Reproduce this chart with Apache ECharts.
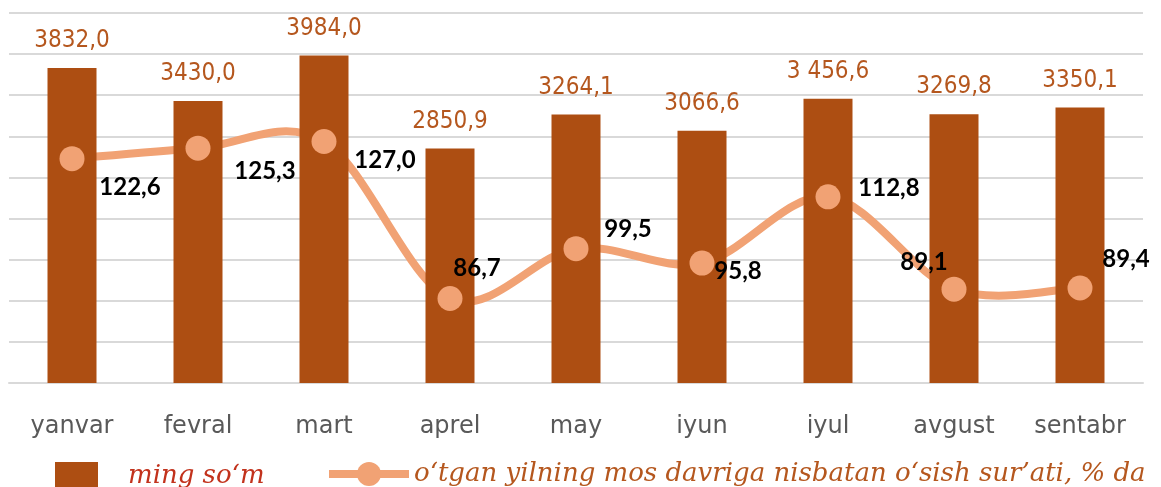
<!DOCTYPE html>
<html>
<head>
<meta charset="utf-8">
<script src="https://cdn.jsdelivr.net/npm/echarts@6/dist/echarts.min.js"></script>
<style>
  html, body { margin: 0; padding: 0; background: #fff; }
  #chart { width: 1161px; height: 487px; }
</style>
</head>
<body>
<div id="chart"></div>
<script>
  const months = ['yanvar', 'fevral', 'mart', 'aprel', 'may', 'iyun', 'iyul', 'avgust', 'sentabr'];
  const barValues = [3832.0, 3430.0, 3984.0, 2850.9, 3264.1, 3066.6, 3456.6, 3269.8, 3350.1];
  const barLabels = ['3832,0', '3430,0', '3984,0', '2850,9', '3264,1', '3066,6', '3 456,6', '3269,8', '3350,1'];
  const growthValues = [122.6, 125.3, 127.0, 86.7, 99.5, 95.8, 112.8, 89.1, 89.4];
  const barName = 'ming so‘m';
  const lineName = 'o‘tgan yilning mos davriga nisbatan o‘sish sur’ati, % da';

  const barColor = '#AD4E12';
  const lineColor = '#F1A274';
  // label placement around each point (like the excel original, hand tuned)
  const lineLabelOffsets = [[58, 29], [67, 23], [61, 19], [27, -30], [52, -19], [36, 8], [61, -9], [-30, -27], [46, -29]];

  // excel-like smoothed curve (catmull-rom) through the points given by the axes
  function renderCurve(params, api) {
    if (params.dataIndex !== 0) return null;
    const pts = growthValues.map((v, i) => api.coord([i, v]));
    let d = 'M' + pts[0][0] + ',' + pts[0][1];
    for (let i = 0; i < pts.length - 1; i++) {
      const p0 = pts[i - 1] || pts[i];
      const p1 = pts[i];
      const p2 = pts[i + 1];
      const p3 = pts[i + 2] || p2;
      const c1 = [p1[0] + (p2[0] - p0[0]) / 6, p1[1] + (p2[1] - p0[1]) / 6];
      const c2 = [p2[0] - (p3[0] - p1[0]) / 6, p2[1] - (p3[1] - p1[1]) / 6];
      d += ' C' + c1.join(',') + ' ' + c2.join(',') + ' ' + p2.join(',');
    }
    return {
      type: 'path',
      shape: { pathData: d },
      style: { fill: 'none', stroke: lineColor, lineWidth: 8 }
    };
  }

  const myChart = echarts.init(document.getElementById('chart'));
  const option = {
    animation: false,
    grid: {
      left: 9,
      right: 18,
      top: 13,
      bottom: 104,
      outerBoundsMode: 'none'
    },
    legend: [
      {
        left: 50,
        top: 457,
        itemWidth: 43,
        itemHeight: 28,
        data: [{ name: barName, icon: 'rect', textStyle: { color: '#C2321C', padding: [0, 0, 0, 25] } }],
        textStyle: { fontFamily: 'DejaVu Serif', fontStyle: 'italic', fontSize: 26 }
      },
      {
        left: 320,
        top: 456,
        itemWidth: 80,
        itemHeight: 30,
        data: [{ name: lineName, textStyle: { color: '#B5571E' } }],
        lineStyle: { color: lineColor, width: 8, opacity: 1 },
        textStyle: { fontFamily: 'DejaVu Serif', fontStyle: 'italic', fontSize: 26 }
      }
    ],
    xAxis: {
      type: 'category',
      data: months,
      axisTick: { show: false },
      axisLine: { lineStyle: { color: '#D9D9D9', width: 2 } },
      axisLabel: {
        color: '#595959',
        fontSize: 24,
        fontFamily: 'DejaVu Sans',
        margin: 32
      }
    },
    yAxis: [
      {
        type: 'value',
        min: 0,
        max: 4500,
        interval: 500,
        axisLabel: { show: false },
        axisLine: { show: false },
        axisTick: { show: false },
        splitLine: { lineStyle: { color: '#D9D9D9', width: 2 } }
      },
      {
        type: 'value',
        min: 65,
        max: 160,
        show: false,
        splitLine: { show: false }
      }
    ],
    series: [
      {
        name: barName,
        type: 'bar',
        data: barValues,
        barWidth: 49,
        itemStyle: { color: barColor },
        label: {
          show: true,
          position: 'top',
          distance: 15,
          color: '#B5571E',
          fontSize: 24,
          fontFamily: 'DejaVu Sans Condensed, Liberation Sans',
          formatter: p => barLabels[p.dataIndex]
        }
      },
      {
        name: lineName + '_curve',
        type: 'custom',
        yAxisIndex: 1,
        z: 2,
        silent: true,
        data: growthValues.map((v, i) => [i, v]),
        renderItem: renderCurve
      },
      {
        name: lineName,
        type: 'line',
        yAxisIndex: 1,
        z: 3,
        data: growthValues.map((v, i) => ({
          value: v,
          label: { offset: lineLabelOffsets[i] }
        })),
        symbol: 'circle',
        symbolSize: 25,
        lineStyle: { color: lineColor, width: 8, opacity: 0 },
        itemStyle: { color: lineColor },
        label: {
          show: true,
          position: 'inside',
          color: '#000',
          fontSize: 24,
          fontWeight: 'bold',
          fontFamily: 'Lato',
          formatter: p => p.value.toFixed(1).replace('.', ',')
        }
      }
    ]
  };
  myChart.setOption(option);
</script>
</body>
</html>
